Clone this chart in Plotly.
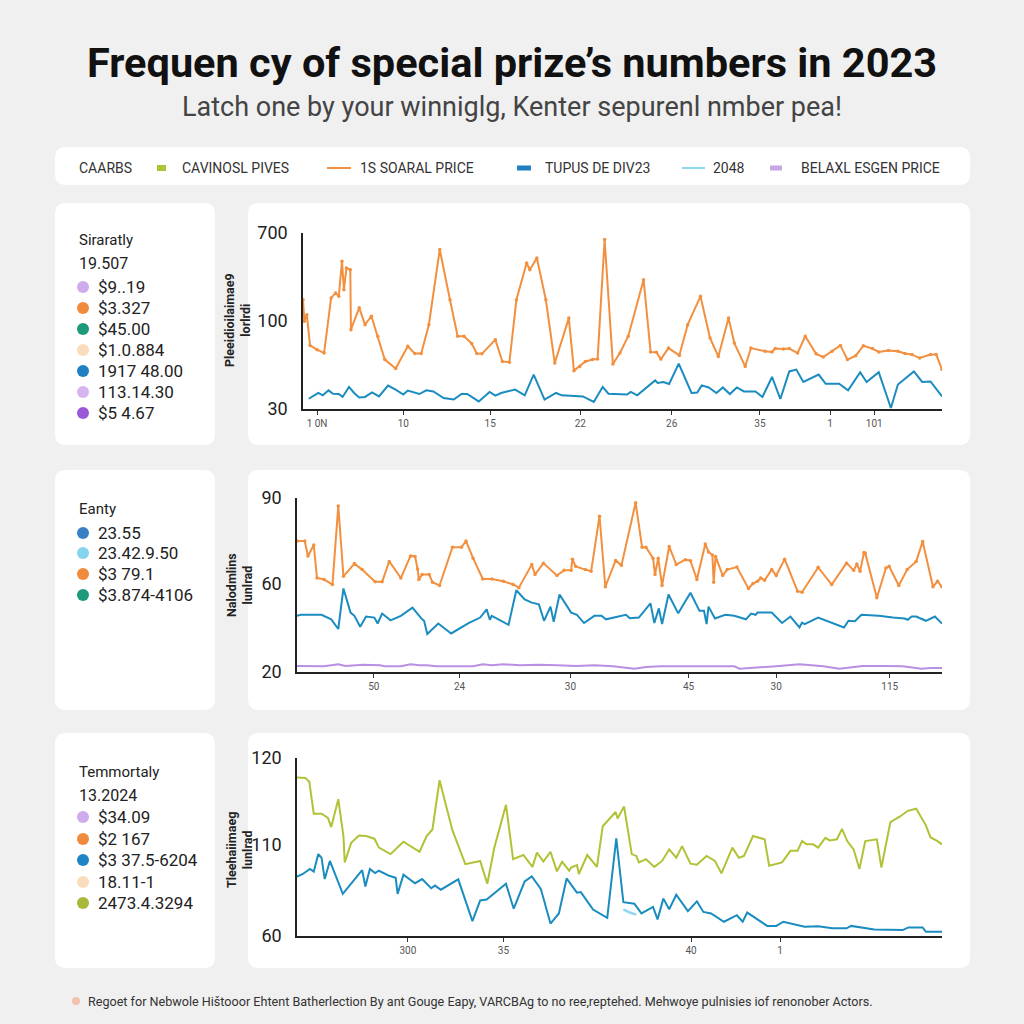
import plotly.graph_objects as go

W = H = 1024

def px(x):
    return x / W

def py(y):
    return 1 - y / H

# ---------------- DATA ----------------
# Panel 1 (y-axis labels 30 / 100 / 700)
p1_orange = [(0,446),(0.2,364),(0.6,389),(1.1,272),(2.2,256),(3.3,243),(4.4,453),(5.1,472),(5.6,459),(6.1,592),(6.4,484),(6.8,567),(7.4,560),(7.5,332),(8.8,415),(9.7,351),(10.7,383),(11.7,307),(12.8,218),(14.5,184),(16.4,269),(17.5,241),(18.5,241),(19.7,351),(21.4,637),(23.0,446),(24.2,307),(25.2,307),(26.4,279),(27.2,241),(28.0,240),(30.1,294),(31.2,211),(32.3,208),(33.4,446),(35.0,586),(35.5,560),(36.6,605),(38.0,446),(39.4,205),(41.6,376),(42.4,176),(43.3,192),(44.2,211),(45.3,218),(46.1,220),(47.2,675),(48.5,201),(49.6,243),(50.9,307),(53.3,522),(54.4,247),(55.3,246),(56.0,220),(57.2,262),(58.9,234),(60.2,351),(62.2,459),(63.7,300),(65.0,230),(66.6,376),(67.5,281),(69.2,192),(70.1,262),(72.3,250),(73.4,247),(73.9,260),(75.2,258),(76.1,260),(77.4,243),(78.6,307),(80.3,240),(81.4,228),(82.8,250),(84.1,272),(85.2,218),(86.5,233),(87.7,271),(89.1,260),(90.1,247),(91.6,253),(93.1,250),(94.2,241),(95.3,237),(96.5,224),(98.2,237),(99.1,237),(100,180)]
p1_blue = [(0.9,69),(1.5,78),(2.4,91),(3.1,82),(4.0,101),(4.7,88),(5.6,87),(6.2,76),(7.2,114),(8.0,91),(8.8,74),(9.7,76),(10.8,93),(11.9,78),(13.3,119),(14.5,104),(15.7,85),(16.4,100),(18.2,87),(19.3,101),(20.4,97),(22.0,72),(23.6,66),(24.8,87),(25.7,87),(27.5,59),(29.2,95),(30.1,81),(31.0,91),(33.2,104),(34.7,82),(36.1,161),(37.8,66),(39.6,91),(40.5,82),(43.8,78),(45.5,57),(46.9,114),(47.8,88),(50.7,85),(51.3,95),(52.3,82),(54.4,126),(55.1,139),(55.5,129),(56.4,133),(57.3,125),(58.8,203),(60.8,91),(61.7,93),(62.4,120),(63.5,112),(64.7,91),(65.7,112),(66.8,87),(67.9,112),(69.0,97),(70.8,97),(71.9,76),(73.4,152),(74.7,68),(76.1,173),(77.2,180),(78.3,133),(80.7,161),(81.8,126),(83.9,126),(85.3,101),(87.2,170),(88.2,133),(90.1,170),(92.0,34),(93.1,123),(95.6,173),(96.9,133),(98.2,135),(100,78)]
p1_xtick_pos = [2.2, 15.7, 29.3, 43.4, 57.7, 71.5, 82.5, 89.4]
p1_xtick_txt = ["1 0N", "10", "15", "22", "26", "35", "1", "101"]
p1_ytick_pos = [30, 365, 700]
p1_ytick_txt = ["30", "100", "700"]

# Panel 2 (y-axis labels 20 / 60 / 90)
p2_orange = [(0,72.7),(1.2,72.7),(1.7,66.7),(2.6,71.1),(3.1,57.8),(4.2,57.2),(5.5,55.2),(6.4,86.8),(7.2,58.5),(8.9,63.6),(10.1,61.2),(12.1,56.3),(13.2,56.3),(14.3,64.5),(16.1,57.8),(17.6,66.7),(18.3,66.5),(18.7,61.4),(18.9,57.2),(19.4,59.2),(20.5,59.2),(21.0,56.1),(22.1,54.8),(24.1,70.2),(25.5,70.2),(26.2,72.7),(27.3,65.8),(28.8,57.4),(30.2,57.4),(32.0,56.5),(33.5,55.2),(34.4,53.9),(36.4,63.2),(36.9,59.2),(38.2,63.8),(40.3,58.8),(41.4,60.9),(42.5,60.9),(42.7,65.4),(43.2,62.5),(44.7,61.2),(45.6,60.5),(46.9,82.7),(47.8,54.3),(49.4,64.9),(50.3,62.9),(52.5,88.1),(53.5,70.2),(54.1,70.2),(55.2,65.8),(55.5,59.2),(56.0,65.8),(56.6,54.8),(57.7,70.5),(58.8,63.2),(60.2,65.2),(61.0,64.8),(62.0,57.2),(63.3,71.5),(63.8,68.3),(64.4,67.1),(64.6,56.1),(64.9,66.5),(66.0,58.8),(66.7,61.2),(68.2,62.2),(70.0,53.6),(70.7,55.6),(71.4,56.5),(71.9,57.8),(72.5,56.9),(73.6,61.2),(74.3,58.8),(75.6,65.4),(77.6,52.5),(78.3,52.1),(80.8,62.1),(82.9,55.2),(85.2,63.8),(86.3,60.9),(86.8,63.4),(87.3,60.5),(87.9,68.1),(88.1,67.8),(89.9,49.9),(91.3,61.8),(91.8,62.5),(93.3,54.8),(94.6,61.2),(96.0,64.5),(97.0,72.5),(98.6,54.3),(99.3,56.5),(100,54.3)]
p2_blue = [(0,42.6),(0.6,43.0),(3.8,43.0),(5.3,41.2),(6.4,37.3),(7.2,53.6),(8.3,43.9),(8.9,42.6),(9.8,38.2),(10.7,42.3),(12.0,41.9),(12.5,39.5),(13.2,43.5),(14.5,40.8),(16.1,42.6),(17.9,45.9),(19.4,41.2),(19.7,40.6),(20.2,35.3),(21.9,39.5),(23.9,35.5),(26.6,39.7),(28.4,41.9),(29.4,45.2),(29.9,41.0),(30.2,42.6),(32.8,39.0),(34.0,52.9),(35.3,49.2),(36.4,47.9),(37.5,47.2),(38.3,40.6),(39.3,46.3),(39.8,40.2),(40.7,51.2),(42.5,43.9),(43.4,43.0),(44.5,39.7),(46.1,42.6),(47.2,42.6),(47.9,41.2),(49.4,42.2),(51.0,43.0),(51.6,41.6),(53.0,41.9),(54.8,47.6),(55.4,39.7),(56.1,45.6),(56.6,39.3),(57.6,51.2),(59.1,43.6),(61.0,51.9),(62.4,44.6),(63.1,44.6),(63.5,39.3),(63.8,46.3),(64.8,41.5),(66.4,43.0),(67.8,42.6),(69.6,41.2),(70.4,43.5),(71.1,43.0),(71.4,43.9),(73.6,43.9),(75.2,39.7),(76.5,42.3),(77.9,37.9),(78.3,39.9),(78.7,39.3),(80.8,41.9),(83.0,39.7),(84.8,37.9),(85.5,40.6),(86.5,40.4),(87.5,43.0),(90.2,42.6),(92.4,41.9),(94.2,41.5),(94.7,41.0),(95.3,42.3),(96.0,42.3),(97.5,40.6),(98.9,42.3),(100,39.5)]
p2_purple = [(0,22.4),(2.7,22.4),(4.2,22.3),(6.4,23.1),(7.5,22.4),(10.3,22.9),(12.9,22.7),(13.6,22.3),(16.1,22.3),(17.6,23.1),(19.0,22.7),(20.1,22.7),(21.6,22.3),(27.3,22.3),(28.8,23.1),(30.2,22.7),(32.0,23.1),(34.6,22.7),(37.5,22.9),(40.4,22.7),(43.3,22.4),(46.1,22.7),(49.0,22.3),(52.3,21.3),(54.1,22.0),(56.3,22.3),(60.6,22.3),(63.5,22.3),(67.8,22.3),(68.6,21.3),(70.7,21.6),(74.3,22.3),(77.9,23.1),(79.4,22.7),(81.6,22.3),(84.1,21.3),(85.2,21.6),(87.7,22.4),(91.0,22.4),(93.9,22.3),(96.8,21.3),(98.2,21.6),(100,21.6)]
p2_xtick_pos = [11.9, 25.2, 42.4, 60.7, 74.3, 91.9]
p2_xtick_txt = ["50", "24", "30", "45", "30", "115"]
p2_ytick_pos = [20, 55.6, 90]
p2_ytick_txt = ["20", "60", "90"]

# Panel 3 (y-axis labels 60 / 110 / 120)
p3_green = [(0,113.4),(0.9,113.3),(1.3,113.3),(1.9,112.0),(2.6,101.2),(3.8,101.2),(4.8,99.8),(5.3,96.7),(6.4,106.1),(7.2,93.7),(7.4,84.8),(8.4,91.4),(9.6,93.9),(10.7,93.7),(12.0,92.8),(12.7,89.8),(14.5,87.6),(16.5,91.8),(19.0,88.4),(20.1,93.7),(21.0,95.9),(22.1,112.5),(24.1,95.6),(26.1,84.2),(28.4,85.3),(29.5,77.6),(30.6,89.8),(32.4,104.2),(33.5,85.9),(35.1,87.3),(36.5,83.3),(37.2,88.1),(38.2,85.1),(39.3,88.4),(40.3,81.8),(41.1,85.0),(42.2,82.0),(42.5,83.1),(43.4,83.9),(43.7,80.9),(45.0,87.3),(46.5,83.3),(47.4,97.0),(49.4,101.8),(49.7,99.6),(50.7,103.7),(51.9,87.6),(52.6,87.0),(53.0,84.8),(54.1,85.9),(55.4,83.3),(56.6,85.3),(57.7,89.2),(58.8,86.4),(59.7,90.3),(61.0,84.4),(62.0,84.0),(63.5,87.0),(64.8,85.3),(65.8,81.1),(67.5,89.8),(68.5,86.4),(69.3,87.0),(70.7,93.7),(72.5,92.6),(73.2,83.7),(75.2,84.8),(76.5,88.7),(77.6,88.7),(78.3,92.0),(79.0,90.9),(80.0,90.9),(80.8,89.8),(81.9,93.1),(82.6,92.2),(83.7,92.6),(84.5,96.1),(85.3,92.0),(86.3,89.2),(87.2,82.6),(88.1,92.0),(89.9,92.6),(90.6,83.1),(92.0,98.4),(93.5,100.3),(94.7,102.2),(96.0,102.9),(97.5,97.3),(98.2,93.3),(99.3,92.0),(100,90.9)]
p3_blue = [(0,80.0),(0.9,80.9),(2.0,82.6),(2.6,81.7),(3.3,87.6),(3.8,86.4),(4.3,79.2),(5.1,85.3),(7.1,74.2),(10.1,82.2),(10.6,76.7),(11.3,82.6),(12.1,81.2),(12.7,82.0),(14.3,80.3),(15.3,79.6),(15.6,74.2),(16.5,80.7),(18.3,77.8),(19.4,79.2),(20.8,76.1),(21.4,77.0),(22.3,75.6),(25.0,79.1),(27.2,65.0),(28.4,72.0),(29.4,72.3),(32.4,77.6),(33.6,69.2),(35.3,78.4),(36.4,80.1),(37.8,75.9),(39.3,64.2),(40.6,67.6),(41.8,79.4),(43.4,74.6),(44.0,74.8),(45.9,68.9),(48.1,66.1),(49.5,92.9),(50.6,71.4),(52.3,70.9),(53.4,67.6),(55.2,69.8),(55.9,65.6),(56.8,72.6),(57.7,69.0),(58.8,73.9),(60.6,68.4),(62.0,71.7),(63.0,68.1),(64.2,67.6),(66.2,64.8),(68.2,67.0),(69.1,64.8),(69.8,67.9),(72.9,63.4),(74.3,63.4),(75.4,64.8),(78.7,63.1),(80.8,63.3),(83.0,62.6),(85.2,62.6),(85.9,63.4),(89.5,62.2),(93.9,62.0),(94.8,62.9),(97.0,62.9),(97.5,61.4),(100,61.4)]
p3_lightblue = [(50.6,69.0),(51.5,68.0),(52.6,67.2)]
p3_xtick_pos = [17.2, 32.0, 61.1, 74.9]
p3_xtick_txt = ["300", "35", "40", "1"]
p3_ytick_pos = [60, 90.9, 120]
p3_ytick_txt = ["60", "110", "120"]

# Legend bar
legend_labels = ["CAVINOSL PIVES", "1S SOARAL PRICE", "TUPUS DE DIV23", "2048", "BELAXL ESGEN PRICE"]

# Side cards
card1_title, card1_sub = "Siraratly", "19.507"
card1_items = ["$9..19", "$3.327", "$45.00", "$1.0.884", "1917 48.00", "113.14.30", "$5 4.67"]
card2_title = "Eanty"
card2_items = ["23.55", "23.42.9.50", "$3 79.1", "$3.874-4106"]
card3_title, card3_sub = "Temmortaly", "13.2024"
card3_items = ["$34.09", "$2 167", "$3 37.5-6204", "18.11-1", "2473.4.3294"]

# ---------------- STYLE ----------------
ORANGE = "#f2903f"
BLUE = "#1a8cc0"
OLIVE = "#b2c136"
PURPLE = "#b98fe3"
LIGHTBLUE = "#8fd6ee"
FONT = "Roboto, 'Open Sans', sans-serif"

def xy(pairs):
    return [a for a, b in pairs], [b for a, b in pairs]

fig = go.Figure()

def add_line(pairs, color, xa, ya, width=2, markers=False):
    x, y = xy(pairs)
    fig.add_trace(go.Scatter(
        x=x, y=y, xaxis=xa, yaxis=ya,
        mode="lines+markers" if markers else "lines",
        line=dict(color=color, width=width),
        marker=dict(size=3.5, color=color),
        showlegend=False, hoverinfo="skip"))

add_line(p1_orange, ORANGE, "x", "y", markers=True)
add_line(p1_blue, BLUE, "x", "y")
add_line(p2_purple, PURPLE, "x2", "y2")
add_line(p2_blue, BLUE, "x2", "y2")
add_line(p2_orange, ORANGE, "x2", "y2", markers=True)
add_line(p3_green, OLIVE, "x3", "y3")
add_line(p3_blue, BLUE, "x3", "y3")
add_line(p3_lightblue, LIGHTBLUE, "x3", "y3", width=2.5)

def xaxis(dom, pos, txt, anchor):
    return dict(domain=dom, range=[0, 100], anchor=anchor, automargin=False,
                showline=True, linecolor="#222", linewidth=2.2,
                showgrid=False, zeroline=False,
                tickmode="array", tickvals=pos, ticktext=txt,
                ticks="outside", ticklen=4, tickcolor="#333", tickwidth=1,
                tickfont=dict(size=10, color="#555", family=FONT))

def yaxis(dom, rng, pos, txt, anchor):
    return dict(domain=dom, range=rng, anchor=anchor, automargin=False,
                showline=True, linecolor="#222", linewidth=1.5,
                showgrid=False, zeroline=False,
                tickmode="array", tickvals=pos, ticktext=txt,
                ticks="", ticklabelstandoff=10,
                tickfont=dict(size=18, color="#222", family=FONT))

fig.update_layout(
    template="none",
    width=W, height=H,
    margin=dict(l=0, r=0, t=0, b=0, pad=0, autoexpand=False),
    paper_bgcolor="#f0f0f0",
    plot_bgcolor="rgba(0,0,0,0)",
    showlegend=False,
    xaxis=xaxis([px(303), px(942)], p1_xtick_pos, p1_xtick_txt, "y"),
    yaxis=yaxis([py(409), py(233)], [30, 700], p1_ytick_pos, p1_ytick_txt, "x"),
    xaxis2=xaxis([px(297), px(942)], p2_xtick_pos, p2_xtick_txt, "y2"),
    yaxis2=yaxis([py(672), py(498)], [20, 90], p2_ytick_pos, p2_ytick_txt, "x2"),
    xaxis3=xaxis([px(297), px(942)], p3_xtick_pos, p3_xtick_txt, "y3"),
    yaxis3=yaxis([py(936), py(758)], [60, 120], p3_ytick_pos, p3_ytick_txt, "x3"),
)

shapes = []
annotations = []

def rrect(x0, y0, x1, y1, r=11, fill="white"):
    X0, X1 = px(x0), px(x1)
    Yt, Yb = py(y0), py(y1)
    rx, ry = r / W, r / H
    path = (f"M {X0+rx},{Yt} L {X1-rx},{Yt} Q {X1},{Yt} {X1},{Yt-ry} "
            f"L {X1},{Yb+ry} Q {X1},{Yb} {X1-rx},{Yb} L {X0+rx},{Yb} "
            f"Q {X0},{Yb} {X0},{Yb+ry} L {X0},{Yt-ry} Q {X0},{Yt} {X0+rx},{Yt} Z")
    shapes.append(dict(type="path", path=path, xref="paper", yref="paper",
                       fillcolor=fill, line=dict(width=0), layer="below"))

# cards
rrect(55, 147, 970, 185)
for (t, b) in [(203, 445), (470, 710), (733, 968)]:
    rrect(55, t, 215, b)
    rrect(248, t, 970, b)

def text(x, y, s, size, color="#222", anchor="left", family=FONT, angle=0):
    annotations.append(dict(x=px(x), y=py(y), xref="paper", yref="paper",
                            text=s, showarrow=False, xanchor=anchor, yanchor="middle",
                            textangle=angle,
                            font=dict(size=size, color=color, family=family)))

# title & subtitle
text(512, 62, "<b>Frequen cy of special prize’s numbers in 2023</b>", 41.5, "#111", "center")
text(512, 107, "Latch one by your winniglg, Kenter sepurenl nmber pea!", 27, "#444", "center")

# legend bar
LY = 168
text(77, LY, "CAARBS", 14, "#333")
shapes.append(dict(type="rect", xref="paper", yref="paper", x0=px(157), x1=px(166),
                   y0=py(171), y1=py(165), fillcolor=OLIVE, line=dict(width=0)))
text(180, LY, legend_labels[0], 14, "#333")
shapes.append(dict(type="line", xref="paper", yref="paper", x0=px(327), x1=px(351),
                   y0=py(LY), y1=py(LY), line=dict(color=ORANGE, width=2)))
text(358, LY, legend_labels[1], 14, "#333")
shapes.append(dict(type="line", xref="paper", yref="paper", x0=px(517), x1=px(531),
                   y0=py(LY), y1=py(LY), line=dict(color="#1f7fc1", width=5)))
text(543, LY, legend_labels[2], 14, "#333")
shapes.append(dict(type="line", xref="paper", yref="paper", x0=px(682), x1=px(705),
                   y0=py(LY), y1=py(LY), line=dict(color=LIGHTBLUE, width=2)))
text(711, LY, legend_labels[3], 14, "#333")
shapes.append(dict(type="line", xref="paper", yref="paper", x0=px(770), x1=px(782),
                   y0=py(LY), y1=py(LY), line=dict(color="#c9a6e8", width=5)))
text(799, LY, legend_labels[4], 14, "#333")

# side cards
def dot(x, y, color, r=6):
    shapes.append(dict(type="circle", xref="paper", yref="paper",
                       x0=px(x - r), x1=px(x + r), y0=py(y + r), y1=py(y - r),
                       fillcolor=color, line=dict(width=0)))

c1_colors = ["#d0aaef", "#f08a3c", "#1c9a7a", "#f8dcbc", "#1f7fc1", "#d6b4f0", "#9a58d8"]
c1_y = [287, 308, 329, 350, 371, 392, 413]
text(77, 240, card1_title, 15, "#222")
text(77, 263, card1_sub, 16, "#222")
for s, c, yy in zip(card1_items, c1_colors, c1_y):
    dot(83, yy, c)
    text(96, yy, s, 17, "#222")

c2_colors = ["#3a7fc4", "#86d3ee", "#f08a3c", "#1c9a7a"]
c2_y = [533, 553, 574, 595]
text(77, 509, card2_title, 15, "#222")
for s, c, yy in zip(card2_items, c2_colors, c2_y):
    dot(83, yy, c)
    text(96, yy, s, 17, "#222")

c3_colors = ["#d0aaef", "#f08a3c", "#1f84c6", "#f8dcbc", "#aab83a"]
c3_y = [817, 839, 860, 882, 903]
text(77, 772, card3_title, 15, "#222")
text(77, 795, card3_sub, 16, "#222")
for s, c, yy in zip(card3_items, c3_colors, c3_y):
    dot(83, yy, c)
    text(96, yy, s, 17, "#222")

# y-axis titles
text(237, 320, "<b>Pleeidioilaimae9<br>lorlrdi</b>", 12.5, "#222", "center", angle=-90)
text(239, 585, "<b>Nalodmlins<br>lunlrad</b>", 12.5, "#222", "center", angle=-90)
text(239, 850, "<b>Tleehaiimaeg<br>lunlrad</b>", 12.5, "#222", "center", angle=-90)

# footer
dot(76, 1001, "#f3c2ad", 4)
text(86, 1001, "Regoet for Nebwole Hištooor Ehtent Batherlection By ant Gouge Eapy, VARCBAg to no ree,reptehed. Mehwoye pulnisies iof renonober Actors.",
     12.6, "#333")

fig.update_layout(shapes=shapes, annotations=annotations)
fig.write_html("out.html")
